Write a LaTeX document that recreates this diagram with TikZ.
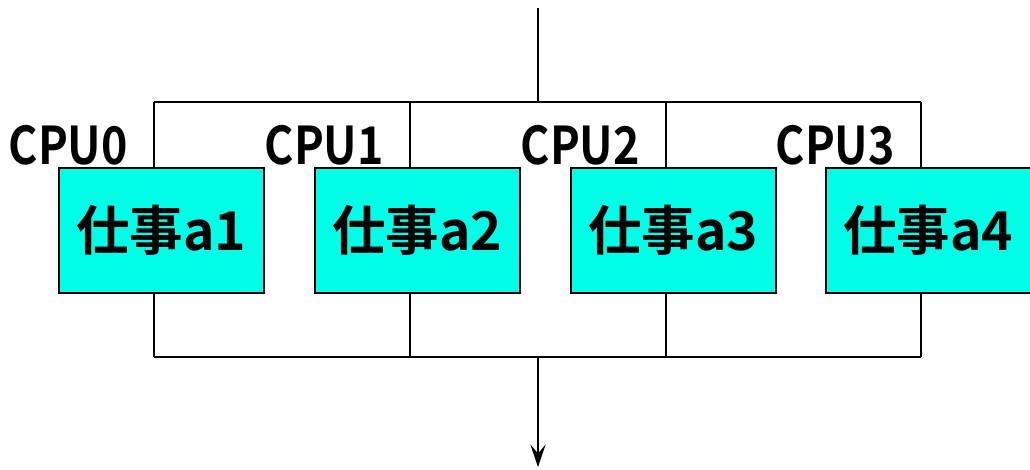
\documentclass[tikz,border=0pt]{standalone}
\usepackage{fontspec}
\setmainfont{Noto Sans CJK JP}[BoldFont={Noto Sans CJK JP Bold}]
\usetikzlibrary{arrows.meta}

\definecolor{taskcyan}{RGB}{0,255,230}

\begin{document}
\begin{tikzpicture}[
  x=0.025cm, y=-0.025cm,
  >={Stealth[length=5.6mm,width=3.8mm,inset=2.2mm]},
  line join=miter,
  wire/.style={line width=1.4pt},
  task/.style={draw,line width=2pt,fill=taskcyan,
    minimum width=5.125cm,minimum height=3.125cm,inner sep=0pt,
    font=\bfseries\fontsize{38}{38}\selectfont},
  cpulabel/.style={anchor=base east,inner sep=0pt,xscale=0.86,
    font=\bfseries\fontsize{37}{37}\selectfont}
]
\useasboundingbox (0,0) rectangle (1030,469);

% ------------------------------------------------------------------
% Fork and join points
% ------------------------------------------------------------------
\coordinate (src)   at (538,8);
\coordinate (fork)  at (538,102);
\coordinate (join)  at (538,357);
\coordinate (sink)  at (538,467);

% ------------------------------------------------------------------
% Tasks on the four CPUs
% ------------------------------------------------------------------
\foreach \i/\x in {0/154,1/410,2/666,3/921}{
  \pgfmathtruncatemacro{\n}{\i+1}
  \coordinate (top\i) at (\x,102);
  \coordinate (bot\i) at (\x,357);
  \node[task] (task\i) at (\x+7.5,230.5) {仕事a\n};
  \node[cpulabel] (cpu\i) at (\x-26,164) {CPU\i};
  \draw[wire] (top\i) -- (top\i |- task\i.north);
  \draw[wire] (task\i.south -| bot\i) -- (bot\i);
}

\draw[wire] (src) -- (fork);
\draw[wire] (top0) -- (top3);
\draw[wire] (bot0) -- (bot3);
\draw[wire,->] (join) -- (sink);

\end{tikzpicture}
\end{document}
